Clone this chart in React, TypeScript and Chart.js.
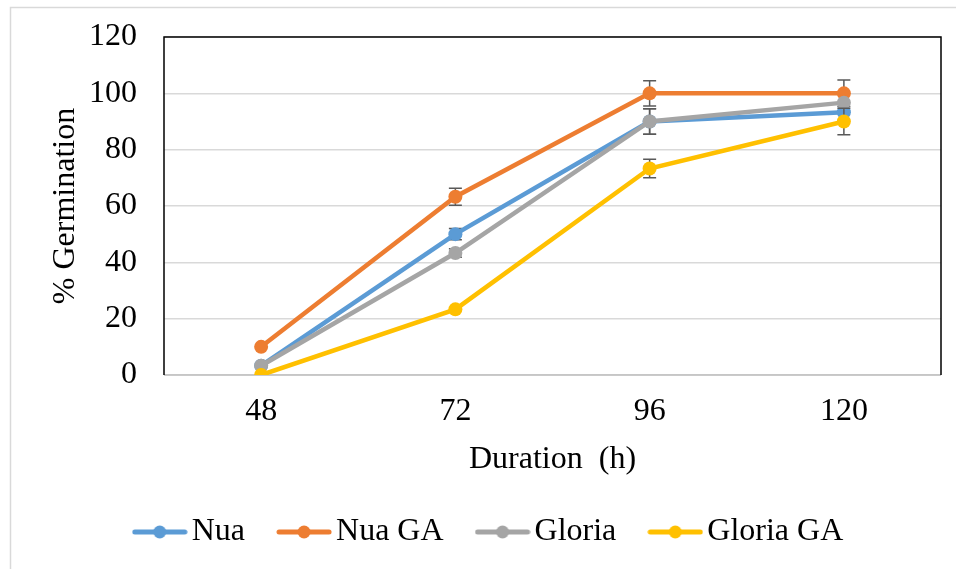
import React, { useEffect, useRef } from "react";
import { Chart, registerables } from "chart.js";

Chart.register(...registerables);

const categories = ["48", "72", "96", "120"];
const seriesNames = ["Nua", "Nua GA", "Gloria", "Gloria GA"];
const nua = [3.3, 50, 90, 93.3];
const nuaGA = [10, 63.3, 100, 100];
const gloria = [3.3, 43.3, 90, 96.7];
const gloriaGA = [0, 23.3, 73.3, 90];
const nuaErr = [0, 2, 4.5, 0];
const nuaGAErr = [0, 3, 4.5, 4.7];
const gloriaErr = [0, 1.5, 4.5, 0];
const gloriaGAErr = [0, 0, 3.3, 4.7];
const colors = ["#5B9BD5", "#ED7D31", "#A5A5A5", "#FFC000"];
const yTicks = [0, 20, 40, 60, 80, 100, 120];

const FONT = "'Liberation Serif', 'Times New Roman', serif";

function makeLegendIcon(color: string) {
  const c = document.createElement("canvas");
  c.width = 56;
  c.height = 16;
  const ctx = c.getContext("2d")!;
  ctx.strokeStyle = color;
  ctx.lineWidth = 5;
  ctx.lineCap = "round";
  ctx.beginPath();
  ctx.moveTo(3, 8);
  ctx.lineTo(53, 8);
  ctx.stroke();
  ctx.fillStyle = color;
  ctx.beginPath();
  ctx.arc(28, 8, 6.5, 0, Math.PI * 2);
  ctx.fill();
  return c;
}

export default function App() {
  const ref = useRef<HTMLCanvasElement>(null);
  useEffect(() => {
    const values = [nua, nuaGA, gloria, gloriaGA];
    const errs = [nuaErr, nuaGAErr, gloriaErr, gloriaGAErr];
    const icons = colors.map(makeLegendIcon);

    const errorBars = {
      id: "errorBars",
      beforeDatasetDraw(chart: any, args: any) {
        const i = args.index;
        const e = errs[i];
        const y = chart.scales.y;
        const ctx = chart.ctx;
        ctx.save();
        ctx.strokeStyle = "#595959";
        ctx.lineWidth = 1.5;
        args.meta.data.forEach((pt: any, j: number) => {
          if (!e[j]) return;
          const v = values[i][j];
          const yt = y.getPixelForValue(v + e[j]);
          const yb = y.getPixelForValue(v - e[j]);
          const x = pt.x;
          ctx.beginPath();
          ctx.moveTo(x, yt);
          ctx.lineTo(x, yb);
          ctx.moveTo(x - 6.5, yt);
          ctx.lineTo(x + 6.5, yt);
          ctx.moveTo(x - 6.5, yb);
          ctx.lineTo(x + 6.5, yb);
          ctx.stroke();
        });
        ctx.restore();
      },
    };

    const frame = {
      id: "frame",
      beforeDraw(chart: any) {
        const ctx = chart.ctx;
        ctx.save();
        ctx.fillStyle = "#ffffff";
        ctx.fillRect(0, 0, chart.width, chart.height);
        ctx.strokeStyle = "#d9d9d9";
        ctx.lineWidth = 1.5;
        ctx.beginPath();
        ctx.moveTo(10.5, chart.height);
        ctx.lineTo(10.5, 7.5);
        ctx.lineTo(chart.width, 7.5);
        ctx.stroke();
        ctx.restore();
      },
      beforeDatasetsDraw(chart: any) {
        const { left, right, top, bottom } = chart.chartArea;
        const ctx = chart.ctx;
        ctx.save();
        ctx.lineWidth = 1.5;
        ctx.strokeStyle = "#bfbfbf";
        ctx.beginPath();
        ctx.moveTo(left, bottom);
        ctx.lineTo(right, bottom);
        ctx.stroke();
        ctx.strokeStyle = "#000000";
        ctx.beginPath();
        ctx.moveTo(left, bottom);
        ctx.lineTo(left, top);
        ctx.lineTo(right, top);
        ctx.lineTo(right, bottom);
        ctx.stroke();
        ctx.restore();
      },
    };

    const chart = new Chart(ref.current!, {
      type: "line",
      data: {
        labels: categories,
        datasets: values.map((d, i) => ({
          label: seriesNames[i],
          data: d,
          borderColor: colors[i],
          backgroundColor: colors[i],
          borderWidth: 4.5,
          pointRadius: 7,
          pointBorderWidth: 0,
          pointBackgroundColor: colors[i],
          order: 4 - i,
          tension: 0,
        })),
      },
      options: {
        responsive: false,
        animation: false,
        layout: { padding: { left: 46, right: 15, top: 37, bottom: 11 } },
        plugins: {
          tooltip: { enabled: false },
          legend: {
            position: "bottom",
            labels: {
              usePointStyle: true,
              pointStyleWidth: 32,
              padding: 43,
              color: "#000000",
              font: { family: FONT, size: 32 },
              sort: (a: any, b: any) => a.datasetIndex - b.datasetIndex,
              generateLabels: (ch: any) => {
                const items = (Chart.defaults.plugins.legend.labels as any).generateLabels(ch);
                items.forEach((it: any) => {
                  it.pointStyle = icons[it.datasetIndex];
                });
                return items;
              },
            },
          },
        },
        scales: {
          x: {
            type: "category",
            offset: true,
            grid: { display: false, drawTicks: false },
            border: { display: false },
            ticks: {
              padding: 17,
              color: "#000000",
              font: { family: FONT, size: 32 },
            },
            title: {
              display: true,
              text: "Duration  (h)",
              color: "#000000",
              font: { family: FONT, size: 32 },
              padding: { top: 0, bottom: -6 },
            },
            afterFit: (s: any) => {
              s.height = 98;
            },
          },
          y: {
            min: 0,
            max: 120,
            afterBuildTicks: (s: any) => {
              s.ticks = yTicks.map((v) => ({ value: v }));
            },
            grid: {
              color: "#d9d9d9",
              lineWidth: 1.5,
              drawTicks: true,
              tickLength: 27,
              tickColor: "rgba(0,0,0,0)",
            },
            border: { display: false },
            ticks: {
              padding: 0,
              color: "#000000",
              font: { family: FONT, size: 32 },
            },
            title: {
              display: true,
              text: "% Germination",
              color: "#000000",
              font: { family: FONT, size: 32 },
              padding: { top: 0, bottom: 0 },
            },
            afterFit: (s: any) => {
              s.width = 118;
            },
          },
        },
      },
      plugins: [frame, errorBars],
    } as any);
    return () => chart.destroy();
  }, []);
  return (
    <div style={{ position: "absolute", left: 0, top: 0, width: 956, height: 569 }}>
      <canvas ref={ref} width={956} height={569} style={{ display: "block" }} />
    </div>
  );
}
